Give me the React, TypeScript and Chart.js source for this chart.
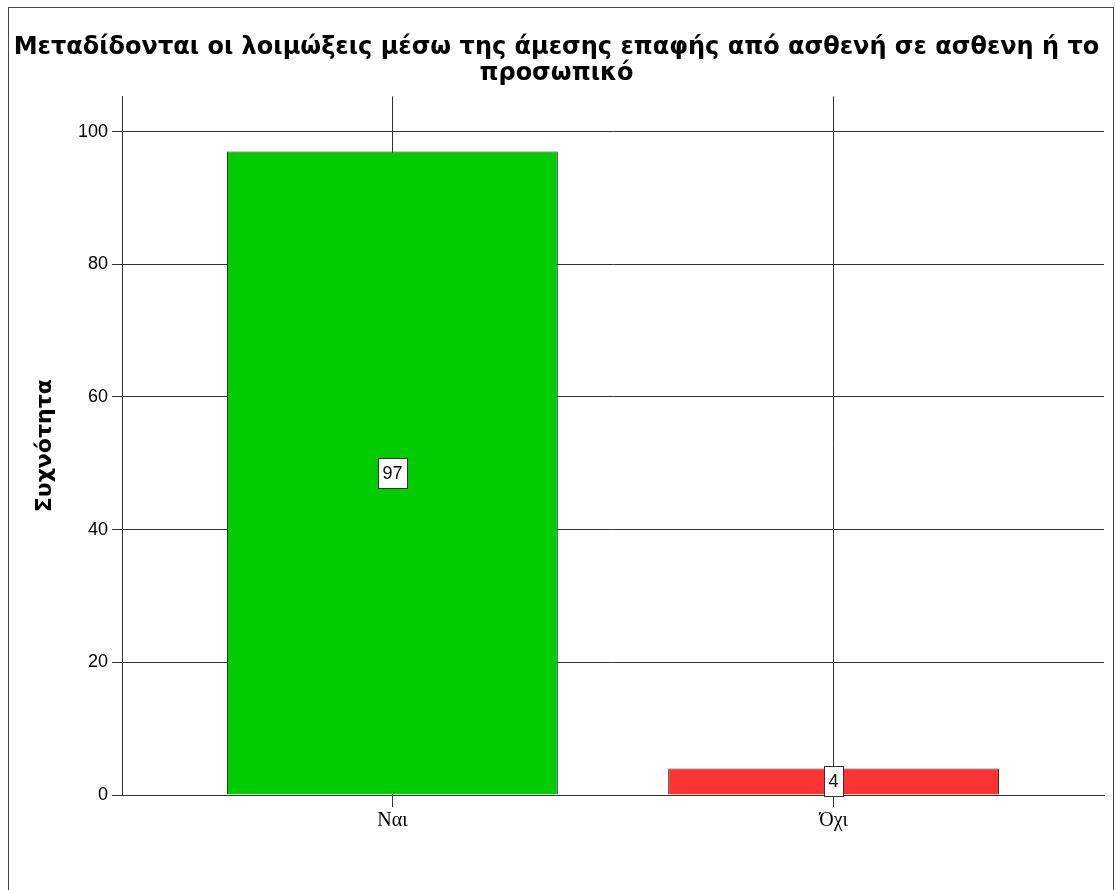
import React, { useEffect, useRef } from "react";
import { Chart, registerables } from "chart.js";

Chart.register(...registerables);

const categories = ["Ναι", "Όχι"];
const frequencies = [97, 4];
const barColors = ["#00CC00", "#FF3333"];
const yTicks = [0, 20, 40, 60, 80, 100];
const titleLines = [
  "Μεταδίδονται οι λοιμώξεις μέσω της άμεσης επαφής από ασθενή σε ασθενη ή το",
  "προσωπικό",
];
const yAxisTitle = "Συχνότητα";

const SANS = "'Liberation Sans', Arial, sans-serif";
const DEJAVU = "'DejaVu Sans', Verdana, sans-serif";
const SERIF = "'Liberation Serif', 'Times New Roman', serif";
const LINE = "#333333";

const valueLabels = {
  id: "valueLabels",
  afterDatasetsDraw(chart: any) {
    const ctx = chart.ctx;
    const meta = chart.getDatasetMeta(0);
    ctx.save();
    ctx.font = `18px ${SANS}`;
    meta.data.forEach((el: any, i: number) => {
      const { x, y, base } = el.getProps(["x", "y", "base"], true);
      const cy = (y + base) / 2;
      const text = String(frequencies[i]);
      const tw = ctx.measureText(text).width;
      const w = Math.round(tw + 9);
      const h = 30;
      const left = Math.round(x - w / 2) + 0.5;
      const top = Math.round(cy - h / 2) + 0.5;
      ctx.fillStyle = "#ffffff";
      ctx.fillRect(left, top, w, h);
      ctx.strokeStyle = LINE;
      ctx.lineWidth = 1;
      ctx.strokeRect(left, top, w, h);
      ctx.fillStyle = "#000000";
      ctx.textAlign = "center";
      ctx.textBaseline = "middle";
      ctx.fillText(text, x, cy + 1);
    });
    ctx.restore();
  },
};

export default function App() {
  const canvasRef = useRef<HTMLCanvasElement | null>(null);

  useEffect(() => {
    const canvas = canvasRef.current;
    if (!canvas) return;
    const chart = new Chart(canvas, {
      type: "bar",
      data: {
        datasets: [
          {
            data: frequencies.map((v, i) => ({ x: i, y: v })),
            backgroundColor: barColors,
            borderColor: LINE,
            borderWidth: 1,
            categoryPercentage: 1,
            barPercentage: 0.75,
          } as any,
        ],
      },
      options: {
        animation: false,
        responsive: false,
        devicePixelRatio: 1,
        layout: { padding: { left: 0, right: 9, top: 0, bottom: 35 } },
        plugins: {
          legend: { display: false },
          tooltip: { enabled: false },
          title: {
            display: true,
            text: titleLines,
            color: "#000000",
            font: { family: DEJAVU, size: 24, weight: "bold", lineHeight: 1.1 },
            padding: { top: 26.4, bottom: 9.2 },
          },
        },
        scales: {
          x: {
            type: "linear",
            offset: false,
            min: -0.613,
            max: 1.613,
            afterBuildTicks: (s: any) => {
              s.ticks = categories.map((_, i) => ({ value: i }));
            },
            afterFit: (s: any) => {
              s.height = 60;
            },
            ticks: {
              callback: (v: any) => categories[v as number] ?? "",
              color: "#000000",
              font: { family: SERIF, size: 20 },
              padding: 2,
              maxRotation: 0,
              autoSkip: false,
            },
            grid: { color: LINE, tickLength: 12, lineWidth: 1, offset: false },
            border: { color: LINE, width: 1 },
          },
          y: {
            type: "linear",
            min: 0,
            max: 105.3,
            afterBuildTicks: (s: any) => {
              s.ticks = yTicks.map((v) => ({ value: v }));
            },
            afterFit: (s: any) => {
              s.width = 113;
            },
            ticks: {
              color: "#000000",
              font: { family: SANS, size: 18 },
              padding: 4,
            },
            grid: { color: LINE, tickLength: 10, lineWidth: 1 },
            border: { color: LINE, width: 1 },
            title: {
              display: true,
              text: yAxisTitle,
              color: "#000000",
              font: { family: DEJAVU, size: 22, weight: "bold", lineHeight: 1.2 },
              padding: { top: 22.8, bottom: 0 },
            },
          },
        },
      } as any,
      plugins: [valueLabels],
    });
    return () => chart.destroy();
  }, []);

  return (
    <div
      style={{
        position: "fixed",
        left: 8,
        top: 7,
        width: 1106,
        height: 890,
        boxSizing: "border-box",
        borderLeft: "1px solid #444",
        borderTop: "1px solid #444",
        borderRight: "1px solid #444",
        background: "#fff",
      }}
    >
      <canvas ref={canvasRef} width={1104} height={882} style={{ display: "block" }} />
    </div>
  );
}
